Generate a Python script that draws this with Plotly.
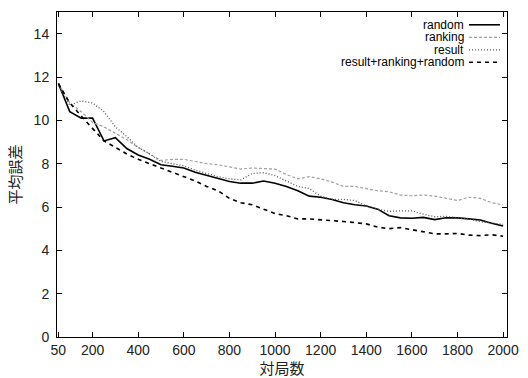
import plotly.graph_objects as go

games = list(range(50, 2001, 50))

random_err = [11.7, 10.4, 10.1, 10.1, 9.05, 9.2, 8.7, 8.4, 8.2, 7.95,
              7.88, 7.8, 7.6, 7.45, 7.3, 7.18, 7.1, 7.1, 7.2, 7.1,
              6.95, 6.75, 6.5, 6.45, 6.35, 6.2, 6.1, 6.05, 5.9, 5.6,
              5.5, 5.48, 5.52, 5.42, 5.5, 5.5, 5.45, 5.4, 5.25, 5.12]
ranking_err = [11.7, 10.8, 10.4, 9.9, 9.7, 9.4, 9.1, 8.75, 8.45, 8.15,
               8.2, 8.2, 8.1, 8.0, 7.95, 7.85, 7.75, 7.8, 7.78, 7.75,
               7.5, 7.3, 7.4, 7.3, 7.15, 6.95, 6.95, 6.85, 6.75, 6.7,
               6.55, 6.52, 6.55, 6.5, 6.4, 6.3, 6.45, 6.4, 6.2, 6.1]
result_err = [11.6, 10.7, 10.9, 10.8, 10.4, 9.7, 9.25, 8.75, 8.45, 8.1,
              8.0, 7.9, 7.7, 7.55, 7.4, 7.3, 7.25, 7.55, 7.58, 7.45,
              7.2, 6.95, 6.85, 6.5, 6.35, 6.35, 6.3, 6.05, 5.9, 5.8,
              5.82, 5.82, 5.67, 5.55, 5.57, 5.5, 5.45, 5.32, 5.25, 5.2]
combo_err = [11.7, 10.8, 10.2, 9.6, 9.05, 8.75, 8.45, 8.2, 8.0, 7.8,
             7.57, 7.4, 7.2, 6.95, 6.75, 6.4, 6.2, 6.1, 5.9, 5.7,
             5.6, 5.45, 5.45, 5.42, 5.38, 5.33, 5.28, 5.22, 5.07, 5.0,
             5.05, 4.95, 4.85, 4.76, 4.76, 4.78, 4.7, 4.68, 4.72, 4.65]

series_names = ["random", "ranking", "result", "result+ranking+random"]
x_ticks = [50, 200, 400, 600, 800, 1000, 1200, 1400, 1600, 1800, 2000]
y_ticks = [0, 2, 4, 6, 8, 10, 12, 14]

styles = [
    dict(color="black", width=1.6, dash="solid"),
    dict(color="#a0a0a0", width=1.2, dash="3px,2px"),
    dict(color="#555555", width=1.3, dash="1px,2px"),
    dict(color="black", width=1.6, dash="4px,4px"),
]

fig = go.Figure()
for name, ys, st in zip(series_names, [random_err, ranking_err, result_err, combo_err], styles):
    fig.add_trace(go.Scatter(x=games, y=ys, mode="lines", name=name, line=st, showlegend=False))

W, H = 528, 378
L, R, T, B = 57, 21, 12, 41
pw, ph = W - L - R, H - T - B

def px_x(p):
    return (p - L) / pw

def px_y(p):
    return 1 - (p - T) / ph

rows = [24.8, 37.3, 49.8, 62.3]
for name, st, py in zip(series_names, styles, rows):
    fig.add_annotation(x=px_x(465), y=px_y(py), xref="paper", yref="paper",
                       text=name, showarrow=False, xanchor="right", yanchor="middle",
                       borderpad=0,
                       font=dict(family="Liberation Sans, Arial, sans-serif", size=12, color="black"))
    fig.add_shape(type="line", xref="paper", yref="paper",
                  x0=px_x(469), x1=px_x(500), y0=px_y(py), y1=px_y(py), line=st)

axis_common = dict(showline=True, linecolor="black", linewidth=1, mirror="ticks",
                   ticks="inside", ticklen=5, tickcolor="black", showgrid=False, zeroline=False,
                   automargin=False,
                   tickfont=dict(family="Liberation Sans, Arial, sans-serif", size=14, color="#222"))

fig.update_layout(
    width=W, height=H,
    margin=dict(l=L, r=R, t=T, b=B, pad=0),
    paper_bgcolor="white", plot_bgcolor="white",
    xaxis=dict(range=[44, 2017], tickvals=x_ticks, ticktext=[str(v) for v in x_ticks],
               ticklabelstandoff=0,
               title=dict(text="対局数", standoff=1,
                          font=dict(family="Noto Sans CJK JP", size=15, color="#222")),
               **axis_common),
    yaxis=dict(range=[0, 15], tickvals=y_ticks, ticktext=[str(v) for v in y_ticks],
               ticklabelstandoff=4,
               title=dict(text="平均誤差", standoff=8,
                          font=dict(family="Noto Sans CJK JP", size=15, color="#222")),
               **axis_common),
)

fig.write_html("out.html", config={"displayModeBar": False, "staticPlot": True},
               post_script="document.body.style.margin='0';document.body.style.overflow='hidden';")
